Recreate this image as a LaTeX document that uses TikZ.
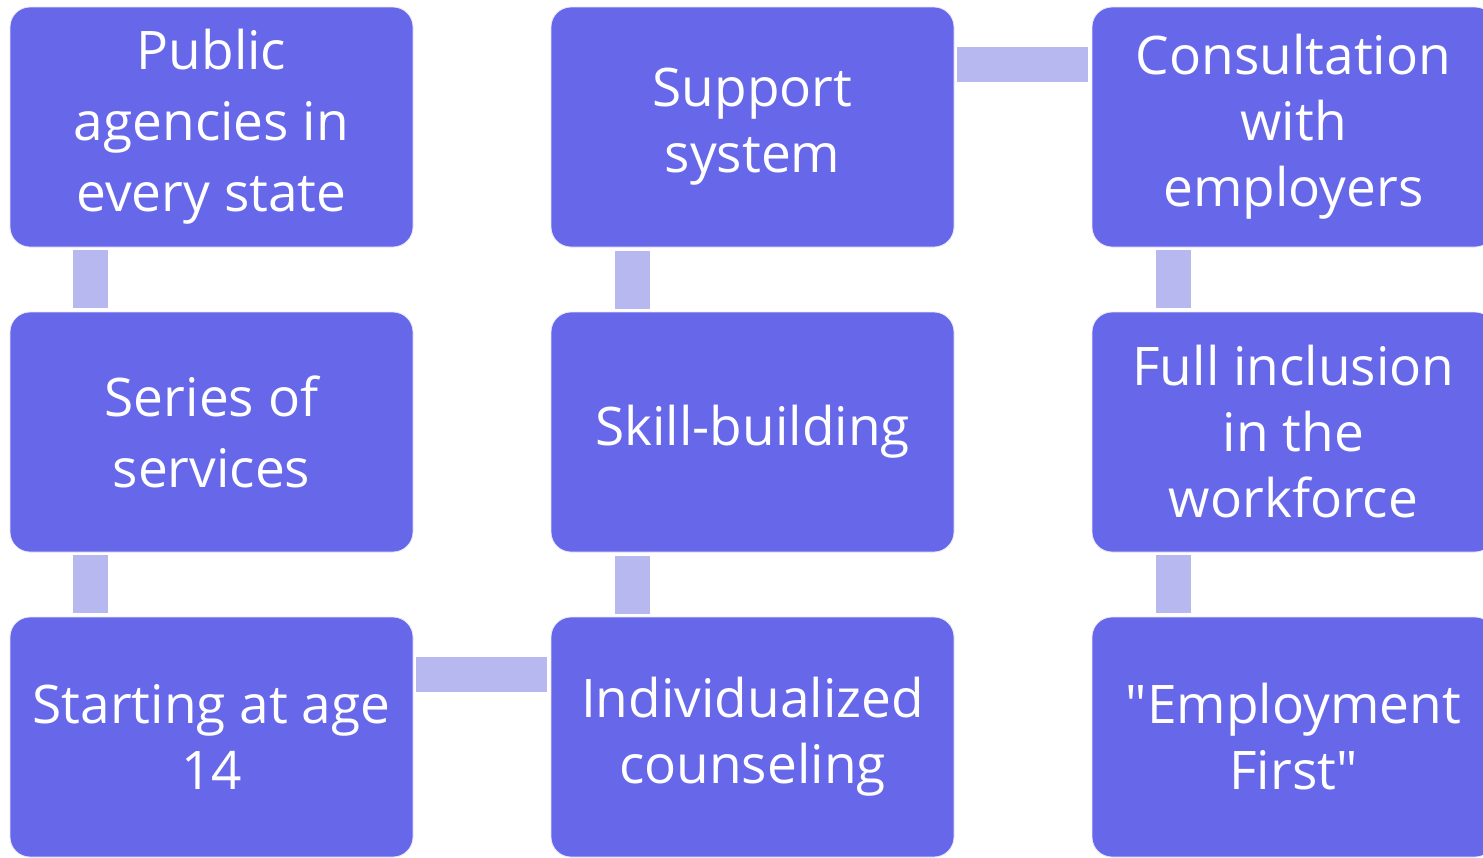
\documentclass[tikz,border=0pt]{standalone}
\usepackage{fontspec}
\setmainfont{Open Sans}
\usetikzlibrary{positioning}
\definecolor{boxblue}{HTML}{6767EA}
\definecolor{linkblue}{HTML}{B8B8F0}

\begin{document}
\begin{tikzpicture}[x=0.5pt, y=-0.5pt, node distance=152.5pt and 270.5pt, on grid,
		box/.style={rectangle, rounded corners=10pt, fill=boxblue, draw=white!85!boxblue, line width=0.4pt,
			minimum width=201.5pt, minimum height=120pt, outer sep=0pt, align=center, text=white,
			font=\fontsize{26.6}{33}\selectfont},
		wide/.style={font=\fontsize{26.6}{35.5}\selectfont},
		link/.style={draw=linkblue, line width=17.5pt, line cap=butt, shorten <=1.5pt, shorten >=2pt}]
			\path[use as bounding box, clip] (0,0) rectangle (1483,857);
			
			\node[box, wide] (pub) at (211.5,127) {Public\\agencies in\\every state};
			\node[box, wide] (ser) [below=of pub] {Series of\\services};
			\node[box] (sta) [below=of ser] {Starting at age\\14};
			\node[box] (ind) [right=of sta] {Individualized\\counseling};
			\node[box] (ski) [above=of ind] {Skill-building};
			\node[box] (sup) [above=of ski] {Support\\system};
			\node[box] (con) [right=of sup] {Consultation\\with\\employers};
			\node[box] (ful) [below=of con] {Full inclusion\\in the\\workforce};
			\node[box] (emp) [below=of ful] {\textquotedbl Employment\\First\textquotedbl};
			
			\path
			([xshift=-60.75pt]pub.south) edge[link] ([xshift=-60.75pt]ser.north)
			([xshift=-60.75pt]ser.south) edge[link] ([xshift=-60.75pt]sta.north)
			([yshift=31.25pt]sta.east) edge[link] ([yshift=31.25pt]ind.west)
			([xshift=-60.25pt]ind.north) edge[link] ([xshift=-60.25pt]ski.south)
			([xshift=-60.25pt]ski.north) edge[link] ([xshift=-60.25pt]sup.south)
			([yshift=31.25pt]sup.east) edge[link] ([yshift=31.25pt]con.west)
			([xshift=-60.25pt]con.south) edge[link] ([xshift=-60.25pt]ful.north)
			([xshift=-60.25pt]ful.south) edge[link] ([xshift=-60.25pt]emp.north);
			
		\end{tikzpicture}
\end{document}
